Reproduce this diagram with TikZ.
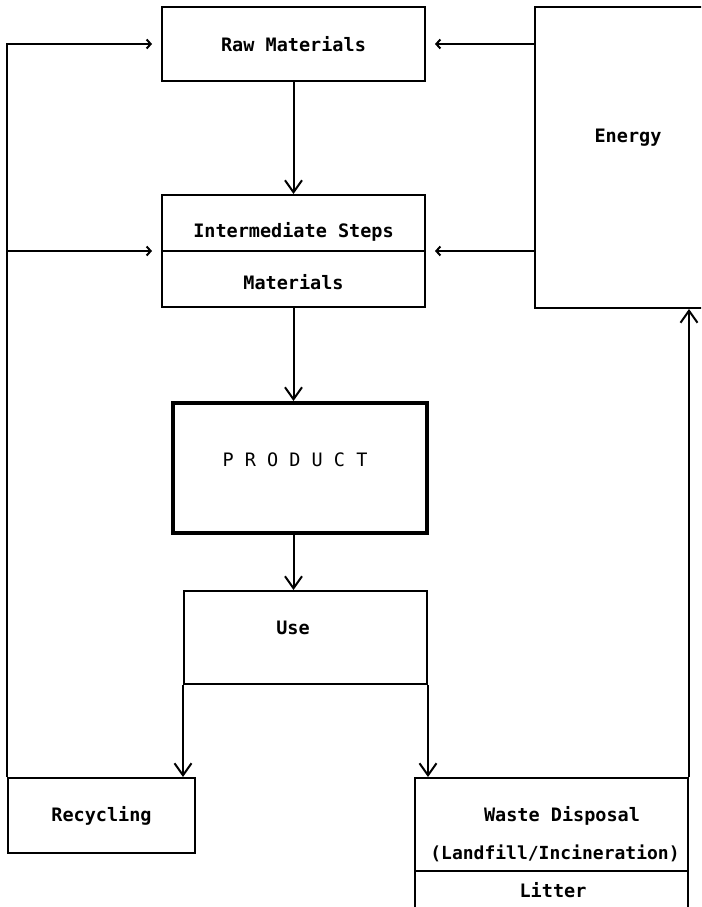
\documentclass[tikz,border=0pt]{standalone}
\usepackage{fontspec}
\setmainfont{DejaVu Sans Mono}
\usetikzlibrary{arrows.meta}

\begin{document}
\begin{tikzpicture}
        [x=1pt,y=-1pt,line width=2pt,
         every node/.style={font=\bfseries\fontsize{18.5}{21}\selectfont},
         box/.style={draw,rectangle,inner sep=0pt},
         flow/.style={-{Straight Barb[length=12pt,width=17pt]}},
         feed/.style={-{Straight Barb[length=4pt,width=9pt]},shorten >=9pt}]
        \useasboundingbox (0,0) rectangle (701,907);
        \clip (0,0) rectangle (701,907);

        % Materials
        \node[box,minimum width=263pt,minimum height=74pt]  (raw)   at (293.5,44)  {Raw Materials};
        \node[box,minimum width=263pt,minimum height=112pt] (inter) at (293.5,251) {};
        \node (intertop) at (293.5,232) {Intermediate Steps};
        \node (interbot) at (293.5,282) {Materials};
        \draw (inter.west) -- (inter.east);

        % Energy
        \node[box,minimum width=186pt,minimum height=301pt] (energy) at (628,157.5) {};
        \node (energylbl) at (628,138) {Energy};

        % Product and use
        \node[box,line width=4pt,minimum width=254pt,minimum height=130pt] (product) at (300,468) {};
        \node[font=\fontsize{18.5}{21}\selectfont] (productlbl) at (295,460) {P R O D U C T};
        \node[box,minimum width=243pt,minimum height=93pt] (use) at (305.5,637.5) {};
        \node (uselbl) at (293,628) {Use};

        % Recycling
        \node[box,minimum width=187pt,minimum height=75pt] (recycling) at (101.5,815.5) {Recycling};

        % Waste
        \node[box,minimum width=273pt,minimum height=150pt] (waste) at (551.5,853) {};
        \node (wastelbl) at (562,816) {Waste Disposal};
        \node[font=\bfseries\fontsize{18}{21}\selectfont] (landfill) at (555,853) {(Landfill/Incineration)};
        \node (litter)   at (553,890) {Litter};
        \coordinate (wastediv) at (0,871);
        \draw (waste.west |- wastediv) -- (waste.east |- wastediv);

        % main flow
        \draw[flow] (raw) -- (inter);
        \draw[flow] (inter.south) -- (inter.south |- product.north);
        \draw[flow] (inter.south |- product.south) -- (inter.south |- use.north);
        \draw[flow] (use.south west) -- (use.south west |- recycling.north);
        \draw[flow] (use.south east) -- (use.south east |- waste.north);
        \draw[flow] (waste.north east) -- (energy.south -| waste.north east);

        % feeds
        \draw[feed] (recycling.north west) |- (raw.west);
        \draw[feed] (recycling.north west |- inter.west) -- (inter.west);
        \draw[feed] (energy.west |- raw.east) -- (raw.east);
        \draw[feed] (energy.west |- inter.east) -- (inter.east);
\end{tikzpicture}
\end{document}
